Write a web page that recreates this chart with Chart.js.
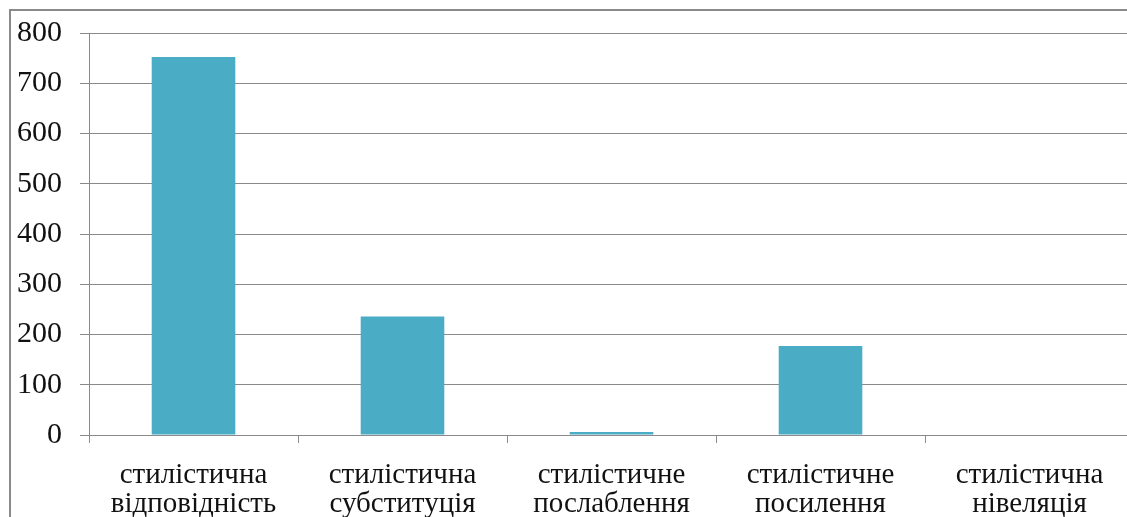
<!DOCTYPE html>
<html>
<head>
<meta charset="utf-8">
<script src="https://cdn.jsdelivr.net/npm/chart.js@4/dist/chart.umd.min.js"></script>
<style>
  html, body { margin: 0; padding: 0; background: #fff; overflow: hidden; }
  #frame { position: absolute; left: 9px; top: 9px; width: 1200px; height: 600px; border: 2px solid #8a8a8a; }
  #myChart { position: absolute; left: 0; top: 0; }
</style>
</head>
<body>
<div id="frame"></div>
<canvas id="myChart" width="1140" height="517"></canvas>
<script>
const categories = [
    ['стилістична', 'відповідність'],
    ['стилістична', 'субституція'],
    ['стилістичне', 'послаблення'],
    ['стилістичне', 'посилення'],
    ['стилістична', 'нівеляція']
];
const values = [752, 236, 6, 177, 0];
const yTicks = [0, 100, 200, 300, 400, 500, 600, 700, 800];

const ctx = document.getElementById('myChart');
new Chart(ctx, {
    type: 'bar',
    data: {
        labels: categories,
        datasets: [{
            data: values,
            backgroundColor: '#4BACC6',
            borderWidth: 0,
            barPercentage: 0.4,
            categoryPercentage: 1
        }]
    },
    options: {
        responsive: false,
        animation: false,
        plugins: { legend: { display: false }, tooltip: { enabled: false } },
        layout: { padding: { top: 33, right: 6, bottom: 0, left: 0 } },
        scales: {
            x: {
                grid: { display: true, drawOnChartArea: false, tickLength: 8, color: '#8a8a8a', offset: true },
                border: { display: true, color: '#8a8a8a', width: 1 },
                ticks: {
                    color: '#111',
                    font: { family: '"Liberation Serif", "Times New Roman", serif', size: 29, lineHeight: 1.03 },
                    padding: 17,
                    maxRotation: 0,
                    autoSkip: false
                },
                afterFit: function (scale) { scale.height = 82; }
            },
            y: {
                min: 0,
                max: 800,
                afterBuildTicks: function (scale) { scale.ticks = yTicks.map(v => ({ value: v })); },
                grid: { color: '#8a8a8a', tickLength: 9 },
                border: { display: true, color: '#8a8a8a', width: 1 },
                ticks: {
                    color: '#111',
                    font: { family: '"Liberation Serif", "Times New Roman", serif', size: 30, lineHeight: 1 },
                    padding: 18
                },
                afterFit: function (scale) { scale.width = 89; }
            }
        }
    }
});
</script>
</body>
</html>
